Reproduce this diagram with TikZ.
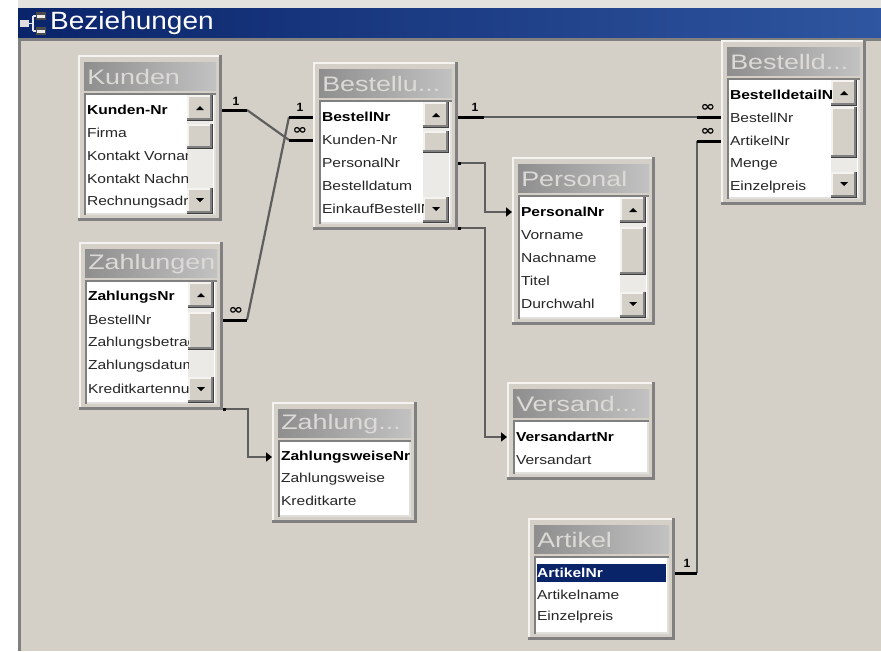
\documentclass[tikz,border=0pt]{standalone}
\usepackage{fontspec}
\setmainfont{Liberation Sans}
\newfontfamily\symfont{DejaVu Sans}
\usetikzlibrary{arrows.meta,fit}

\definecolor{desk}{HTML}{D4D0C8}
\definecolor{topgrey}{HTML}{E4E2DE}
\definecolor{navy}{HTML}{0A246A}
\definecolor{capend}{HTML}{2F56A0}
\definecolor{shadowgrey}{HTML}{808080}
\definecolor{darkedge}{HTML}{404040}
\definecolor{hilite}{HTML}{F4F3F0}
\definecolor{listedge}{HTML}{E2E0DC}
\definecolor{tleft}{HTML}{8E8E8E}
\definecolor{tright}{HTML}{C2C2C2}
\definecolor{ttext}{HTML}{DCDAD6}
\definecolor{track}{HTML}{ECEAE6}
\definecolor{linkgrey}{HTML}{5E5E5E}
\definecolor{fieldtxt}{HTML}{262626}

\tikzset{
  field/.style={anchor=west, inner sep=0pt, outer sep=0pt,
    font=\fontsize{13}{14}\selectfont, text=fieldtxt, xscale=1.2},
  keyfield/.style={field, font=\fontsize{13}{14}\selectfont\bfseries, text=black},
  wintitle/.style={anchor=west, inner sep=0pt, font=\fontsize{21}{22}\selectfont,
    text=ttext, xscale=1.28},
  cardone/.style={inner sep=0pt, font=\fontsize{12}{12}\selectfont\bfseries, text=black},
  cardmany/.style={inner sep=0pt, font=\symfont\fontsize{14}{14}\selectfont\bfseries,
    text=black, xscale=1.25},
  stub/.style={line width=3pt, black},
  link/.style={line width=2.2pt, linkgrey},
  joinarrow/.style={link, -{Triangle[length=6pt,width=9pt,color=black]}},
}

% table window: id, x0, y0, x1, y1, caption
\newcommand\dbwin[6]{%
  \node[fit={(#2,#3) (#4,#5)}, inner sep=0pt, outer sep=0pt] (#1) {};
  \fill[desk] (#2,#3) rectangle (#4,#5);
  \fill[hilite] (#2,#3) rectangle ({#4-3},{#3+2});
  \fill[hilite] (#2,#3) rectangle ({#2+2},{#5-3});
  \fill[shadowgrey] ({#4-3},#3) rectangle (#4,#5);
  \fill[shadowgrey] (#2,{#5-3}) rectangle (#4,#5);
  \shade[left color=tleft, right color=tright] ({#2+6},{#3+7}) rectangle ({#4-6},{#3+35});
  \begin{scope}
    \clip ({#2+6},{#3+7}) rectangle ({#4-6},{#3+35});
    \node[wintitle] (#1-title) at ({#2+9},{#3+22}) {#6};
  \end{scope}
  \fill[white] ({#2+6},{#3+38}) rectangle ({#4-6},{#5-6});
  \fill[listedge] ({#2+6},{#5-8}) rectangle ({#4-6},{#5-6});
  \fill[listedge] ({#4-8},{#3+38}) rectangle ({#4-6},{#5-6});
  \fill[shadowgrey] ({#2+6},{#3+38}) rectangle ({#4-6},{#3+40});
  \fill[shadowgrey] ({#2+6},{#3+38}) rectangle ({#2+8},{#5-6});
}

% raised button face: x0, y0, x1, y1
\newcommand\dbbtn[4]{%
  \fill[darkedge] (#1,#2) rectangle (#3,#4);
  \fill[shadowgrey] (#1,#2) rectangle ({#3-1.5},{#4-1.5});
  \fill[hilite] (#1,#2) rectangle ({#3-3},{#4-3});
  \fill[desk] ({#1+1.5},{#2+1.5}) rectangle ({#3-3},{#4-3});
}

% vertical scroll bar: x0, x1, top, bottom, thumb top, thumb bottom
\newcommand\dbscroll[6]{%
  \fill[track] (#1,#3) rectangle (#2,#4);
  \dbbtn{#1}{#3}{#2}{#3+26}
  \dbbtn{#1}{#5}{#2}{#6}
  \dbbtn{#1}{#4-26}{#2}{#4}
  \fill[black] ({(#1+#2)/2-4},{#3+15}) -- ({(#1+#2)/2+4},{#3+15}) -- ({(#1+#2)/2},{#3+11}) -- cycle;
  \fill[black] ({(#1+#2)/2-4},{#4-16}) -- ({(#1+#2)/2+4},{#4-16}) -- ({(#1+#2)/2},{#4-12}) -- cycle;
}

% field list: id, x0, y0, clip right, clip bottom, row step, key field, other fields
\newcommand\dbfields[8]{%
  \begin{scope}
    \clip ({#2+8},{#3+41}) rectangle (#4,#5);
    \node[keyfield] (#1-f1) at ({#2+9},{#3+55}) {#7};
    \foreach \fname [count=\k from 2] in {#8}
      \node[field] (#1-f\k) at ({#2+9},{#3+55+(\k-1)*#6}) {\fname};
  \end{scope}
}

\begin{document}
\begin{tikzpicture}[x=1pt,y=-1pt]
\useasboundingbox (0,0) rectangle (881,651);

% frame of the relationships window
\fill[topgrey] (0,0) rectangle (881,8);
\fill[white] (0,0) rectangle (18,651);
\shade[left color=navy, right color=capend] (18,8) rectangle (881,38);
\fill[desk] (18,38) rectangle (881,651);
\fill[shadowgrey] (18,38) rectangle (881,41);
\fill[shadowgrey] (18,38) rectangle (21,651);

% caption icon
\draw[white!80!gray, line width=1.5pt] (29,23.5) -- (33,23.5) (33,16) -- (33,31) (33,16) -- (36,16) (33,31) -- (36,31);
\fill[white!75!gray] (20,20) rectangle (29,27);
\fill[black!70] (36,12) rectangle (46,20);
\fill[white!85!gray] (37,15) rectangle (45,18);
\fill[black!70] (36,27) rectangle (46,35);
\fill[white!85!gray] (37,30) rectangle (45,33);
\node[anchor=west, inner sep=0pt, text=white, font=\fontsize{25}{26}\selectfont, xscale=1.12] (maintitle) at (50,23) {Beziehungen};

% tables
\dbwin{kunden}{78}{55}{222}{221}{Kunden}
\dbscroll{187}{213}{95}{214}{124}{149}
\dbfields{kunden}{78}{55}{187}{214}{23}{Kunden-Nr}{Firma, Kontakt Vorname, Kontakt Nachname, Rechnungsadresse}

\dbwin{bestellungen}{313}{62}{458}{230}{Bestellu...}
\dbscroll{423}{449}{102}{223}{131}{153}
\dbfields{bestellungen}{313}{62}{423}{223}{23}{BestellNr}{Kunden-Nr, PersonalNr, Bestelldatum, EinkaufBestellNr}

\dbwin{bestelldetails}{721}{40}{866}{205}{Bestelld...}
\dbscroll{831}{857}{80}{198}{107}{158}
\dbfields{bestelldetails}{721}{40}{831}{198}{23}{BestelldetailNr}{BestellNr, ArtikelNr, Menge, Einzelpreis}

\dbwin{personal}{512}{157}{655}{325}{Personal}
\dbscroll{620}{646}{197}{318}{227}{275}
\dbfields{personal}{512}{157}{620}{318}{23}{PersonalNr}{Vorname, Nachname, Titel, Durchwahl}

\dbwin{zahlungen}{79}{242}{223}{410}{Zahlungen}
\dbscroll{188}{214}{282}{403}{312}{350}
\dbfields{zahlungen}{79}{242}{188}{403}{23}{ZahlungsNr}{BestellNr, Zahlungsbetrag, Zahlungsdatum, Kreditkartennummer}

\dbwin{zahlungsweisen}{272}{402}{417}{523}{Zahlung...}
\dbfields{zahlungsweisen}{272}{402}{410}{516}{22}{ZahlungsweiseNr}{Zahlungsweise, Kreditkarte}

\dbwin{versandart}{507}{382}{655}{480}{Versand...}
\dbfields{versandart}{507}{382}{648}{473}{23}{VersandartNr}{Versandart}

\dbwin{artikel}{528}{518}{675}{640}{Artikel}
\fill[navy] (537,564) rectangle (666,582);
\dbfields{artikel}{528}{518}{668}{633}{22}{\color{white}ArtikelNr}{Artikelname, Einzelpreis}

% relationships: Kunden 1 -- n Bestellungen, Bestellungen 1 -- n Zahlungen
\path (kunden.east |- kunden-f1.west) ++(25,0) coordinate (kj);
\path (bestellungen.west |- bestellungen-f2.west) ++(-24,0) coordinate (bkj);
\path (bestellungen.west |- bestellungen-f1.west) ++(-24,0) coordinate (bzj);
\path (zahlungen.east |- zahlungen-f2.west) ++(24,0) coordinate (zbj);
\draw[link] (kj) -- (bkj);
\draw[link] (bzj) -- (zbj);
\draw[stub] (kunden.east |- kunden-f1.west) -- (kj);
\draw[stub] (bestellungen.west |- bestellungen-f2.west) -- (bkj);
\draw[stub] (bestellungen.west |- bestellungen-f1.west) -- (bzj);
\draw[stub] (zahlungen.east |- zahlungen-f2.west) -- (zbj);
\node[cardone] (c-kunden) at ([shift={(-11,-9)}]kj) {1};
\node[cardmany] (c-bestk) at ([shift={(11,-9)}]bkj) {∞};
\node[cardone] (c-bestz) at ([shift={(11,-10)}]bzj) {1};
\node[cardmany] (c-zahl) at ([shift={(-11,-9)}]zbj) {∞};

% Bestellungen 1 -- n Bestelldetails
\path (bestellungen.east |- bestellungen-f1.west) ++(26,0) coordinate (bd1);
\path (bestelldetails.west |- bd1) ++(-24,0) coordinate (bd2);
\draw[link] (bd1) -- (bd2);
\draw[stub] (bestellungen.east |- bestellungen-f1.west) -- (bd1);
\draw[stub] (bestelldetails.west |- bd1) -- (bd2);
\node[cardone] (c-bd1) at ([shift={(-9,-10)}]bd1) {1};
\node[cardmany] (c-bd2) at ([shift={(11,-9)}]bd2) {∞};

% Artikel 1 -- n Bestelldetails
\path (artikel.east |- artikel-f1.west) ++(22,0) coordinate (a1);
\path (bestelldetails.west |- bestelldetails-f3.west) ++(-24,0) coordinate (a2);
\draw[link] (a1) -- (a2);
\draw[stub] (artikel.east |- artikel-f1.west) -- (a1);
\draw[stub] (bestelldetails.west |- bestelldetails-f3.west) -- (a2);
\node[cardone] (c-a1) at ([shift={(-10,-10)}]a1) {1};
\node[cardmany] (c-a2) at ([shift={(11,-9)}]a2) {∞};

% outer joins with arrows
\draw[joinarrow] (bestellungen.east |- bestellungen-f3.west) -- ++(27,0) |- (personal.west |- personal-f1.west);
\draw[stub] (bestellungen.east |- bestellungen-f3.west) -- ++(3,0);
\draw[joinarrow] ([yshift=2pt]bestellungen.south east) -- ++(27,0) |- (versandart.west |- versandart-f1.west);
\draw[stub] ([yshift=2pt]bestellungen.south east) -- ++(3,0);
\draw[joinarrow] ([yshift=1pt]zahlungen.south east) -- ++(25,0) |- (zahlungsweisen.west |- zahlungsweisen-f1.west);
\draw[stub] ([yshift=1pt]zahlungen.south east) -- ++(3,0);
\end{tikzpicture}
\end{document}
